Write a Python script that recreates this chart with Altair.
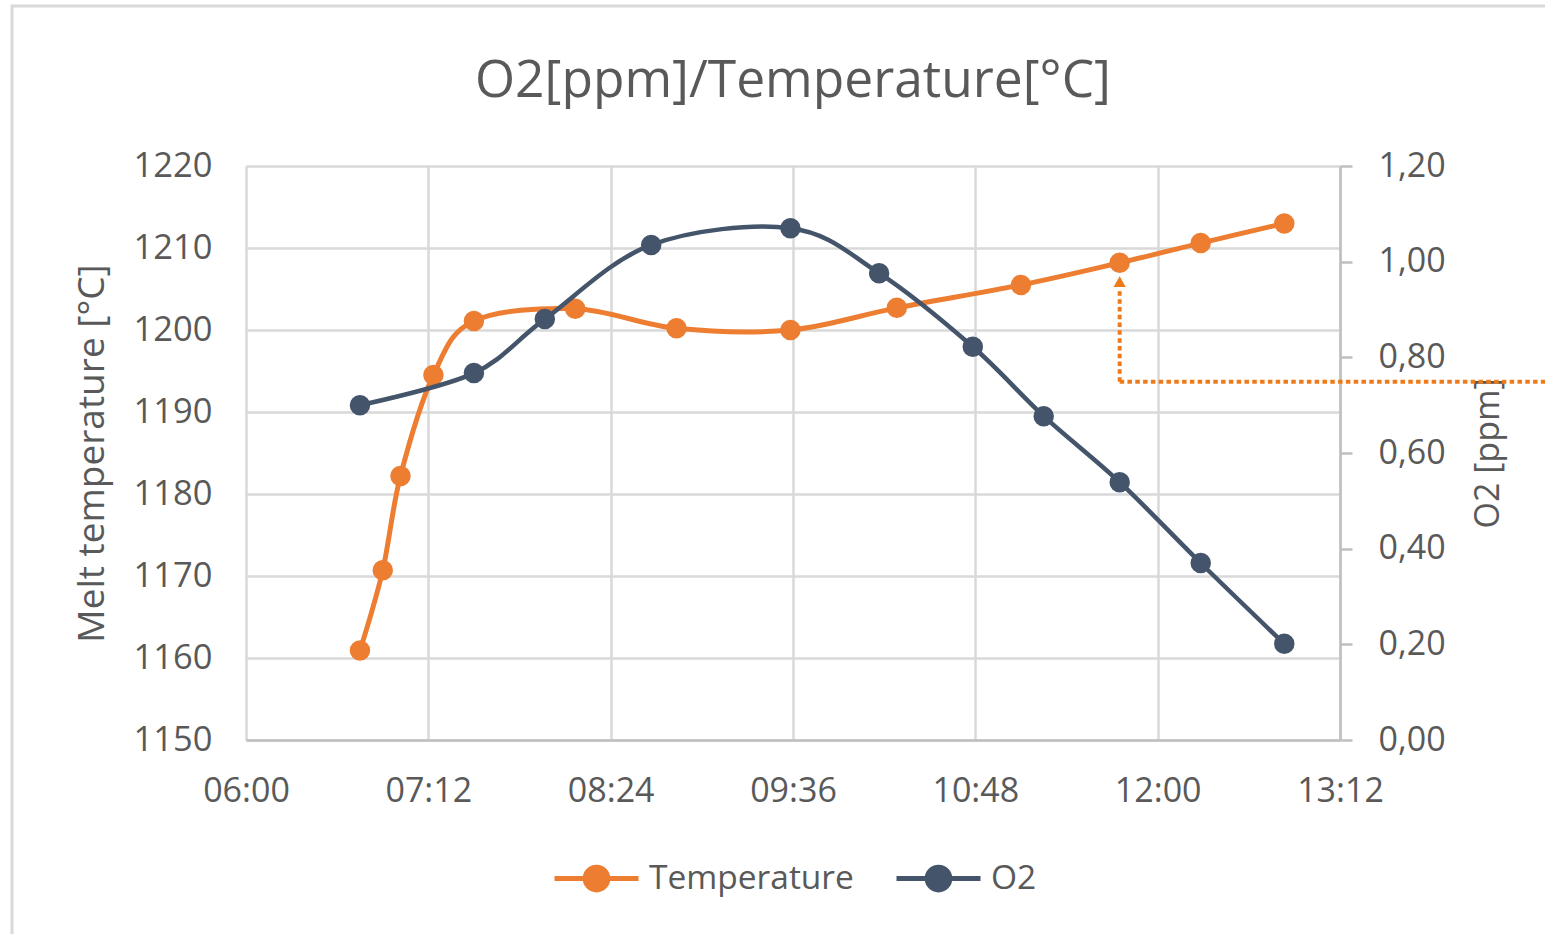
import altair as alt
import pandas as pd

# ---- data ----
temp_times = ["06:45", "06:54", "07:01", "07:14", "07:30", "08:10", "08:50",
              "09:35", "10:17", "11:06", "11:45", "12:17", "12:50"]
temp_values = [1160.9, 1170.7, 1182.2, 1194.5, 1201.1, 1202.6, 1200.2,
               1200.0, 1202.7, 1205.5, 1208.2, 1210.6, 1213.0]

o2_times = ["06:45", "07:30", "07:58", "08:40", "09:35", "10:10", "10:47",
            "11:15", "11:45", "12:17", "12:50"]
o2_values = [0.70, 0.767, 0.880, 1.035, 1.070, 0.976, 0.822,
             0.677, 0.539, 0.370, 0.201]

x_ticks = ["06:00", "07:12", "08:24", "09:36", "10:48", "12:00", "13:12"]
temp_ticks = [1150, 1160, 1170, 1180, 1190, 1200, 1210, 1220]
o2_ticks = [0.0, 0.2, 0.4, 0.6, 0.8, 1.0, 1.2]

# annotation arrow (pointing at the 11:45 temperature point)
arrow_time = "11:45"
arrow_end_time = "14:35"
arrow_y_low = 1193.7
arrow_y_high = 1205.0
arrow_tip = 1205.9

series = ["Temperature", "O2"]
colors = ["#ED7D31", "#44546A"]


def to_min(t):
    h, m = t.split(":")
    return int(h) * 60 + int(m)


temp_df = pd.DataFrame({"t": [to_min(t) for t in temp_times], "temp": temp_values,
                        "series": series[0]})
o2_df = pd.DataFrame({"t": [to_min(t) for t in o2_times], "o2": o2_values,
                      "series": series[1]})
tick_min = [to_min(t) for t in x_ticks]
hline_df = pd.DataFrame({"t": [to_min(arrow_time)], "t2": [to_min(arrow_end_time)], "y": [arrow_y_low]})
vline_df = pd.DataFrame({"t": [to_min(arrow_time)], "y": [arrow_y_low], "y2": [arrow_y_high]})
tip_df = pd.DataFrame({"t": [to_min(arrow_time)], "y": [arrow_tip]})
frame_df = pd.DataFrame({"a": [0]})

GREY = "#595959"
FONT = "Open Sans"

x_label_expr = ("(floor(datum.value/60) < 10 ? '0' : '') + floor(datum.value/60) + ':' + "
                "(datum.value % 60 < 10 ? '0' : '') + (datum.value % 60)")

x_enc = alt.X("t:Q", scale=alt.Scale(domain=[tick_min[0], tick_min[-1]], nice=False, zero=False),
              axis=alt.Axis(values=tick_min, labelExpr=x_label_expr, title=None, grid=True,
                            gridColor="#d9d9d9", gridWidth=2.5, domainColor="#bfbfbf",
                            domainWidth=2.5, ticks=False, labelPadding=34, labelFontSize=34,
                            labelFlush=False, labelColor=GREY, labelFont=FONT))

temp_scale = alt.Scale(domain=[1150, 1220], nice=False, zero=False)
o2_scale = alt.Scale(domain=[0, 1.2], nice=False)

color_scale = alt.Scale(domain=series, range=colors)
legend = alt.Legend(
    title=None, orient="none", direction="horizontal", legendX=306, legendY=668,
    symbolType="M-1,0L1,0M0.27,0A0.27,0.27,0,1,1,-0.27,0A0.27,0.27,0,1,1,0.27,0Z",
    symbolSize=7056, symbolStrokeWidth=5, symbolOpacity=1, labelFontSize=33.5, labelColor=GREY,
    labelFont=FONT, labelOffset=8, labelLimit=400, columnPadding=32,
)
color_enc = alt.Color("series:N", scale=color_scale, legend=legend)

temp_line = alt.Chart(temp_df).mark_line(interpolate="cardinal", strokeWidth=5).encode(
    x=x_enc,
    y=alt.Y("temp:Q", scale=temp_scale,
            axis=alt.Axis(values=temp_ticks, format="d", title="Melt temperature [°C]", grid=True,
                          gridColor="#d9d9d9", gridWidth=2.5, domain=False, ticks=False,
                          labelPadding=34, labelFontSize=34.5, labelColor=GREY, labelFont=FONT,
                          titleFontSize=37, titleColor=GREY, titleFont=FONT,
                          titleFontWeight="normal", titlePadding=22)),
    color=color_enc,
)
temp_pts = alt.Chart(temp_df).mark_point(filled=True, size=420, opacity=1).encode(
    x="t:Q", y=alt.Y("temp:Q", scale=temp_scale), color=color_enc,
)

ARROW = "#EE7B1A"
hline = alt.Chart(hline_df).mark_rule(color=ARROW, strokeWidth=4, strokeDash=[4.5, 3.3],
                                      strokeCap="butt").encode(
    x="t:Q", x2="t2:Q", y=alt.Y("y:Q", scale=temp_scale))
vline = alt.Chart(vline_df).mark_rule(color=ARROW, strokeWidth=4, strokeDash=[4.5, 3.3],
                                      strokeCap="butt").encode(
    x="t:Q", y=alt.Y("y:Q", scale=temp_scale), y2="y2:Q")
tip = alt.Chart(tip_df).mark_point(shape="triangle-up", filled=True, size=150, color=ARROW,
                                   opacity=1).encode(
    x="t:Q", y=alt.Y("y:Q", scale=temp_scale))

o2_line = alt.Chart(o2_df).mark_line(interpolate="cardinal", strokeWidth=4.5).encode(
    x="t:Q",
    y=alt.Y("o2:Q", scale=o2_scale,
            axis=alt.Axis(orient="right", values=o2_ticks,
                          labelExpr="replace(format(datum.value, '.2f'), '.', ',')",
                          title="O2 [ppm]", titleAngle=270, titleBaseline="top", grid=False,
                          domain=True, domainColor="#bfbfbf", domainWidth=2.5, ticks=True,
                          tickSize=12, tickColor="#bfbfbf", tickWidth=2.5, labelPadding=26,
                          labelFontSize=34, labelColor=GREY, labelFont=FONT,
                          titleFontSize=34, titleColor=GREY, titleFont=FONT,
                          titleFontWeight="normal", titlePadding=26)),
    color=color_enc,
)
o2_pts = alt.Chart(o2_df).mark_point(filled=True, size=420, opacity=1).encode(
    x="t:Q", y=alt.Y("o2:Q", scale=o2_scale), color=color_enc,
)

frame = alt.Chart(frame_df).mark_rect(fill="transparent", stroke="#d9d9d9", strokeWidth=3).encode(
    x=alt.value(-234), x2=alt.value(1330), y=alt.value(-160), y2=alt.value(800))

temp_layer = alt.layer(frame, temp_line, hline, vline, tip, temp_pts)
o2_layer = alt.layer(o2_line, o2_pts)

chart = alt.layer(temp_layer, o2_layer).resolve_scale(y="independent").properties(
    width=1094, height=574,
    autosize=alt.AutoSizeParams(type="none"),
    padding={"left": 246, "top": 166, "right": 205, "bottom": 194},
    title=alt.TitleParams("O2[ppm]/Temperature[°C]", fontSize=51.5, font=FONT, color=GREY,
                          fontWeight="normal", anchor="middle", frame="group", offset=-103),
).configure_view(stroke=None).configure(background="white")

chart.save("out.html", embed_options={"renderer": "svg", "actions": False})
